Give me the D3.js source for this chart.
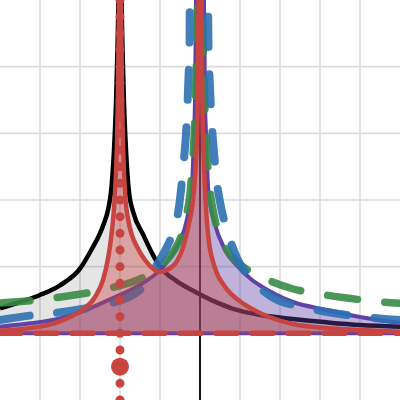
<!DOCTYPE html>
<html><head><meta charset="utf-8">
<script src="https://cdn.jsdelivr.net/npm/d3@7"></script>
<style>html,body{margin:0;padding:0;background:#fff;}svg{display:block}</style>
</head><body>
<svg id="c" width="400" height="400"></svg>
<script>
// ---- data ----
const xGrid = [-4, -3, -2, -1, 1, 2, 3, 4];
const yGrid = [1, 2, 3, 4];

const blackX = [-5, -4.5, -4, -3.5, -3, -2.7, -2.5, -2.4, -2.3, -2.225, -2.15, -2.1, -2.07, -2.04, -2,
  -1.96, -1.93, -1.9, -1.85, -1.775, -1.67, -1.42, -1.17, -1, -0.575, -0.125, 0.375, 0.79, 1.2, 1.55, 2.325, 3.175, 4, 5];
const blackY = [0.375, 0.47, 0.575, 0.72, 0.97, 1.27, 1.5, 1.65, 1.85, 2.12, 2.75, 3.45, 4.1, 5.0, 8,
  5.0, 4.1, 3.45, 2.75, 2.12, 1.82, 1.48, 1.17, 1.0, 0.78, 0.625, 0.475, 0.375, 0.31, 0.27, 0.215, 0.165, 0.125, 0.1];

const purpleX = [-5, -4.25, -3.5, -2.75, -2.25, -1.425, -1, -0.625, -0.35, -0.25, -0.2, -0.15, -0.125, -0.1, 0,
  0.1, 0.125, 0.15, 0.2, 0.25, 0.35, 0.625, 0.95, 1.3, 1.55, 2.325, 3.175, 4, 5];
const purpleY = [0.1, 0.15, 0.225, 0.375, 0.51, 0.755, 0.95, 1.25, 1.65, 1.95, 2.2, 3.0, 3.5, 5.0, 8,
  5.0, 3.5, 3.0, 2.2, 1.95, 1.68, 1.25, 1.0, 0.8, 0.7, 0.47, 0.35, 0.245, 0.155];

const greenX = [-5, -4.075, -3.675, -2.7, -2.25, -1.425, -1, -0.675, -0.425, -0.35, -0.25, -0.21, -0.1675, -0.125, -0.09, -0.0625, 0,
  0.0625, 0.09, 0.125, 0.1675, 0.21, 0.25, 0.35, 0.425, 0.675, 0.95, 1.25, 1.625, 2.25, 3.2, 3.675, 4.625, 5];
const greenY = [0.455, 0.5, 0.53, 0.62, 0.68, 0.84, 1.02, 1.22, 1.55, 1.75, 2.1, 2.38, 2.75, 3.3, 4.1, 5.0, 8,
  5.0, 4.1, 3.3, 2.75, 2.4, 2.15, 1.78, 1.58, 1.25, 1.06, 0.93, 0.82, 0.68, 0.57, 0.53, 0.465, 0.45];

const blueX = [-5, -4.125, -3.625, -2.675, -2.2, -1.425, -1.05, -0.8, -0.65, -0.525, -0.4575, -0.4175, -0.333, -0.29, -0.26, -0.255, -0.025,
  0.2, 0.21, 0.245, 0.295, 0.375, 0.425, 0.5, 0.7, 0.875, 1.375, 1.8, 2.7, 3.175, 4.125, 5];
const blueY = [0.2, 0.275, 0.305, 0.395, 0.455, 0.695, 1.055, 1.33, 1.55, 1.9, 2.25, 2.5, 3.17, 3.8, 4.4, 5.0, 8,
  5.0, 4.4, 3.75, 3.15, 2.55, 2.25, 1.97, 1.5, 1.2, 0.755, 0.545, 0.38, 0.32, 0.245, 0.2];

const redX = [-5, -4, -3.5, -3, -2.625, -2.425, -2.3, -2.225, -2.1625, -2.125, -2.1, -2.075, -2.05, -2.025, -2,
  -1.975, -1.95, -1.9125, -1.875, -1.8, -1.7, -1.575, -1.375, -1.175, -1.0,
  -0.833, -0.583, -0.417, -0.292, -0.167, -0.1, -0.075, -0.05, -0.0375, 0,
  0.0375, 0.05, 0.075, 0.1, 0.125, 0.2075, 0.375, 0.625, 0.9575, 1.29, 1.55, 2.325, 3.175, 4, 5];
const redY = [0.04, 0.1, 0.18, 0.33, 0.545, 0.8, 1.12, 1.42, 1.78, 2.1, 2.4, 2.85, 3.6, 5.0, 8,
  5.0, 3.6, 2.6, 2.1, 1.72, 1.47, 1.3, 1.1, 0.97, 0.92,
  0.95, 1.075, 1.3, 1.6, 2.05, 2.6, 2.95, 3.9, 5.0, 8,
  5.0, 3.9, 2.95, 2.5, 2.15, 1.45, 0.98, 0.7, 0.5, 0.37, 0.29, 0.14, 0.08, 0.05, 0.025];

const dotLineX = -2;           // dotted vertical line x = -2
const dotLineY = [5, -1];
const pointX = [-2], pointY = [-0.5];
const baseX = [-5, 5], baseY = [0, 0];

// ---- chart ----
const W = 400, H = 400;
const svg = d3.select('#c');
const x = d3.scaleLinear().domain([-5, 5]).range([0, W]);
const y = d3.scaleLinear().domain([-1, 5]).range([H, 0]);

const RED = '#c74440', BLUE = '#2d70b3', GREEN = '#388c46', PURPLE = '#6042a6';

svg.append('rect').attr('width', W).attr('height', H).attr('fill', '#fff');

const g = svg.append('g');
// grid
g.selectAll('.vg').data(xGrid).join('line')
  .attr('x1', d => x(d)).attr('x2', d => x(d)).attr('y1', 0).attr('y2', H)
  .attr('stroke', '#dcdcdc').attr('stroke-width', 1.6);
g.selectAll('.hg').data(yGrid).join('line')
  .attr('y1', d => y(d)).attr('y2', d => y(d)).attr('x1', 0).attr('x2', W)
  .attr('stroke', '#dcdcdc').attr('stroke-width', 1.6);
// axes
g.append('line').attr('x1', x(0)).attr('x2', x(0)).attr('y1', 0).attr('y2', H)
  .attr('stroke', '#111').attr('stroke-width', 2);
g.append('line').attr('x1', 0).attr('x2', W).attr('y1', y(0)).attr('y2', y(0))
  .attr('stroke', '#111').attr('stroke-width', 2);

const zip = (xs, ys) => xs.map((v, i) => [v, ys[i]]);
const line = d3.line().x(d => x(d[0])).y(d => y(d[1])).curve(d3.curveMonotoneX);
const area = d3.area().x(d => x(d[0])).y0(y(0)).y1(d => y(d[1])).curve(d3.curveMonotoneX);
const lineV = d3.line().x(d => x(d[0])).y(d => y(d[1]));

const black = zip(blackX, blackY), purple = zip(purpleX, purpleY), green = zip(greenX, greenY),
      blue = zip(blueX, blueY), red = zip(redX, redY);

// black fill + line
g.append('path').attr('d', area(black)).attr('fill', '#000').attr('fill-opacity', 0.1);
g.append('path').attr('d', line(black)).attr('fill', 'none').attr('stroke', '#000')
  .attr('stroke-width', 4.5).attr('stroke-linejoin', 'round');

// purple fill + line
g.append('path').attr('d', area(purple)).attr('fill', PURPLE).attr('fill-opacity', 0.4);
g.append('path').attr('d', lineV(zip(baseX, baseY))).attr('stroke', PURPLE).attr('stroke-width', 4).attr('fill', 'none');
g.append('path').attr('d', line(purple)).attr('fill', 'none').attr('stroke', PURPLE)
  .attr('stroke-width', 4).attr('stroke-linejoin', 'round');

// green dashed
g.append('path').attr('d', line(green)).attr('fill', 'none').attr('stroke', GREEN).attr('stroke-opacity', 0.9)
  .attr('stroke-width', 7.5).attr('stroke-linecap', 'round').attr('stroke-dasharray', '30 27.5');
// blue dashed
g.append('path').attr('d', line(blue)).attr('fill', 'none').attr('stroke', BLUE).attr('stroke-opacity', 0.9)
  .attr('stroke-width', 8).attr('stroke-linecap', 'round').attr('stroke-dasharray', '30 27.5');

// red fill + line
g.append('path').attr('d', area(red)).attr('fill', RED).attr('fill-opacity', 0.4);
g.append('path').attr('d', line(red)).attr('fill', 'none').attr('stroke', RED)
  .attr('stroke-width', 4.5).attr('stroke-linejoin', 'round');

// red dashed baseline
g.append('path').attr('d', lineV(zip(baseX, baseY))).attr('fill', 'none').attr('stroke', RED)
  .attr('stroke-width', 5.5).attr('stroke-linecap', 'round').attr('stroke-dasharray', '21 15');

// red dotted vertical line and point
g.append('path').attr('d', lineV(dotLineY.map(v => [dotLineX, v]))).attr('fill', 'none')
  .attr('stroke', RED).attr('stroke-width', 9).attr('stroke-linecap', 'round')
  .attr('stroke-dasharray', `0 ${y(0) - y(0.25)}`);
g.selectAll('.pt').data(zip(pointX, pointY)).join('circle')
  .attr('cx', d => x(d[0])).attr('cy', d => y(d[1])).attr('r', 9).attr('fill', RED);
</script>
</body></html>
